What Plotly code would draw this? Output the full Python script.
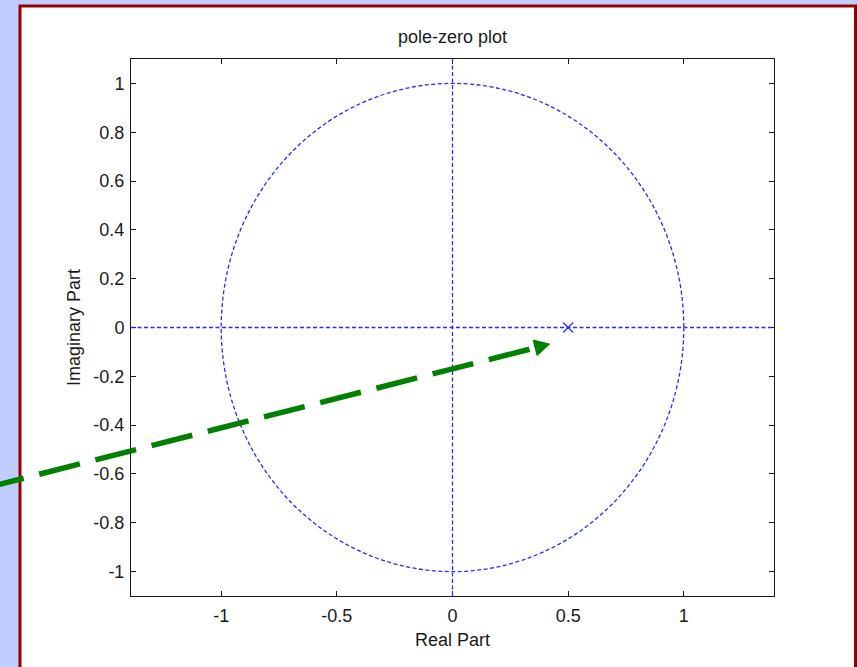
import numpy as np
import plotly.graph_objects as go

# ---- data ----
pole_re = [0.5]
pole_im = [0.0]
zero_re = []
zero_im = []
x_tickvals = [-1, -0.5, 0, 0.5, 1]
x_ticktext = ["-1", "-0.5", "0", "0.5", "1"]
y_tickvals = [-1, -0.8, -0.6, -0.4, -0.2, 0, 0.2, 0.4, 0.6, 0.8, 1]
y_ticktext = ["-1", "-0.8", "-0.6", "-0.4", "-0.2", "0", "0.2", "0.4", "0.6", "0.8", "1"]
x_range = [-1.39, 1.39]
y_range = [-1.1, 1.1]
unit_radius = 1.0
arrow_from = (-2.03, -0.66)   # data coords (annotation arrow, starts off the plot)
arrow_to = (0.42, -0.068)

# ---- layout geometry ----
W, H = 858, 667
ML, MR, MT, MB = 131, 84, 59, 71
PW, PH = W - ML - MR, H - MT - MB

FONT = "Liberation Sans, Arial, sans-serif"
BLUE = "#2a2aff"
GREEN = "#008000"


def d2px(x, y):
    px = ML + (x - x_range[0]) / (x_range[1] - x_range[0]) * PW
    py = MT + (y_range[1] - y) / (y_range[1] - y_range[0]) * PH
    return px, py


def px2paper(px, py):
    return (px - ML) / PW, (MT + PH - py) / PH


fig = go.Figure()

# pole marker
fig.add_trace(go.Scatter(
    x=pole_re, y=pole_im, mode="markers",
    marker=dict(symbol="x-thin", size=10, color=BLUE, line=dict(color=BLUE, width=1.2)),
    showlegend=False, hoverinfo="skip"))

shapes = []
# white panel with dark red border (paper coords)
bx0, by0 = px2paper(20, 6)
bx1, by1 = px2paper(855.5, 700)
shapes.append(dict(type="rect", xref="paper", yref="paper", x0=bx0, x1=bx1, y0=by1, y1=by0,
                   fillcolor="white", line=dict(color="#990000", width=3), layer="below"))

DOT = "4px,2.5px"
# unit circle
shapes.append(dict(type="circle", xref="x", yref="y", x0=-unit_radius, x1=unit_radius,
                   y0=-unit_radius, y1=unit_radius, line=dict(color=BLUE, width=1.3, dash=DOT)))
# real / imaginary axes (dotted)
shapes.append(dict(type="line", xref="paper", yref="y", x0=0, x1=1, y0=0, y1=0,
                   line=dict(color=BLUE, width=1.3, dash=DOT)))
shapes.append(dict(type="line", xref="x", yref="paper", x0=0, x1=0, y0=0, y1=1,
                   line=dict(color=BLUE, width=1.3, dash=DOT)))

# green dashed arrow
sx, sy = d2px(*arrow_from)
tx, ty = d2px(*arrow_to)
ux, uy = tx - sx, ty - sy
L = (ux ** 2 + uy ** 2) ** 0.5
ux, uy = ux / L, uy / L
nx, ny = -uy, ux
head_len, head_hw = 15, 8
ex, ey = tx - (head_len - 2) * ux, ty - (head_len - 2) * uy
p0 = px2paper(sx, sy)
p1 = px2paper(ex, ey)
shapes.append(dict(type="line", xref="paper", yref="paper", x0=p0[0], y0=p0[1], x1=p1[0], y1=p1[1],
                   line=dict(color=GREEN, width=5.5, dash="42px,16px")))
bxh, byh = tx - head_len * ux, ty - head_len * uy
v1 = px2paper(bxh + head_hw * nx, byh + head_hw * ny)
v2 = px2paper(tx, ty)
v3 = px2paper(bxh - head_hw * nx, byh - head_hw * ny)
path = f"M {v1[0]} {v1[1]} L {v2[0]} {v2[1]} L {v3[0]} {v3[1]} Z"
shapes.append(dict(type="path", xref="paper", yref="paper", path=path,
                   fillcolor=GREEN, line=dict(color=GREEN, width=1)))

axis_common = dict(showgrid=False, zeroline=False, showline=True, linecolor="#1a1a1a", linewidth=1,
                   mirror="ticks", ticks="inside", ticklen=5, tickcolor="#1a1a1a", tickwidth=1,
                   tickfont=dict(family=FONT, size=18, color="#1a1a1a"))

fig.update_layout(
    width=W, height=H,
    margin=dict(l=ML, r=MR, t=MT, b=MB),
    paper_bgcolor="#BFCEFF",
    plot_bgcolor="white",
    shapes=shapes,
    title=dict(text="pole-zero plot", x=(ML + PW / 2) / W, xanchor="center",
               y=1 - 37 / H, yanchor="middle", yref="container",
               font=dict(family=FONT, size=18, color="#1a1a1a")),
    xaxis=dict(range=x_range, tickvals=x_tickvals, ticktext=x_ticktext,
               title=dict(text="Real Part", font=dict(family=FONT, size=18, color="#1a1a1a"), standoff=8),
               ticklabelstandoff=3, **axis_common),
    yaxis=dict(range=y_range, tickvals=y_tickvals, ticktext=y_ticktext,
               title=dict(text="Imaginary Part", font=dict(family=FONT, size=18, color="#1a1a1a"), standoff=8),
               ticklabelstandoff=2, **axis_common),
)

fig.write_html("out.html", config={"displayModeBar": False})
